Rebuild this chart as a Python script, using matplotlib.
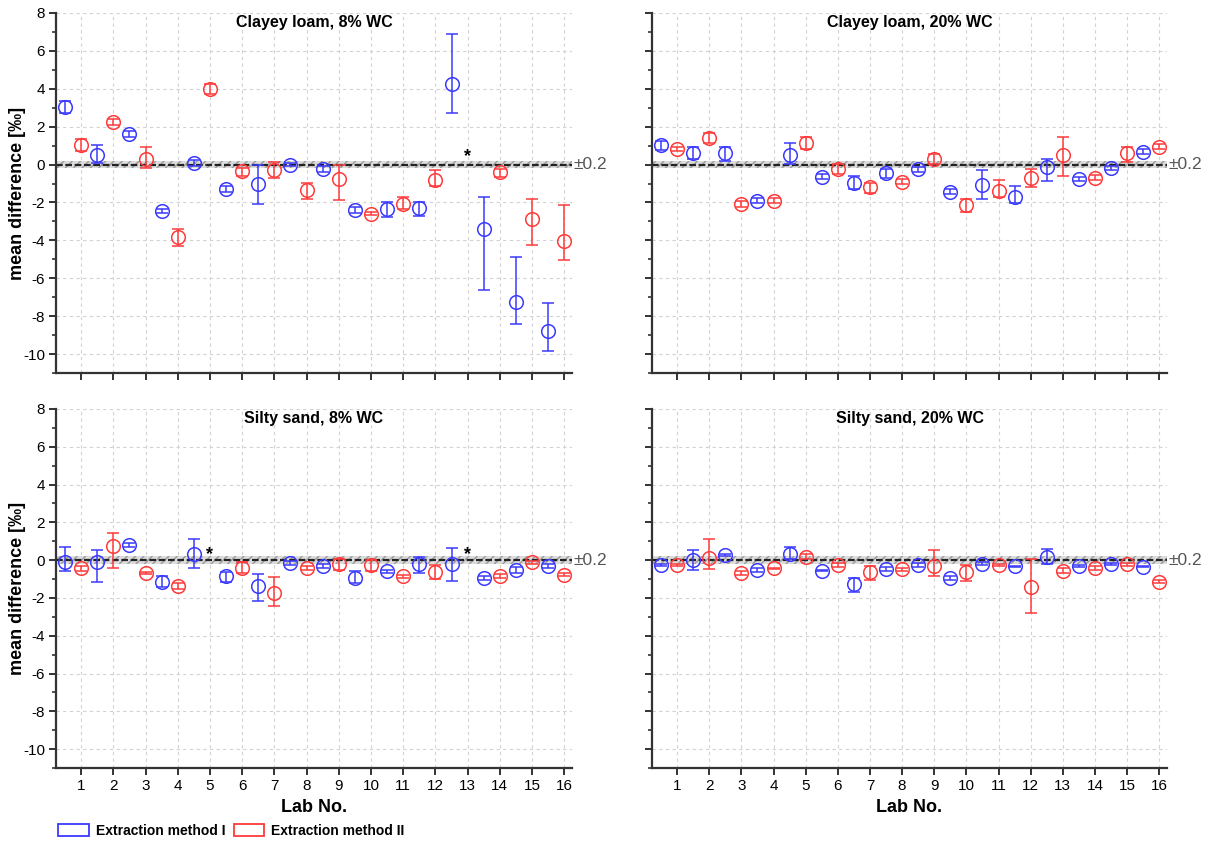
import numpy as np
import matplotlib
matplotlib.use('Agg')
import matplotlib.pyplot as plt
from matplotlib.patches import Patch
from matplotlib.ticker import MultipleLocator

plt.rcParams['font.family'] = ['Liberation Sans', 'DejaVu Sans']
plt.rcParams['axes.unicode_minus'] = False

labs = np.arange(1, 17)
nan = np.nan

# Clayey loam, 8% WC
cl8_m1 = [3.04, 0.52, 1.6, -2.45, 0.1, -1.3, -1.02, 0.0, -0.25, -2.4, -2.35, -2.3, 4.24, -3.38, -7.23, -8.78]
cl8_m1_hi = [0.29, 0.53, 0.15, 0.12, 0.15, 0.15, 1.0, 0.1, 0.15, 0.15, 0.4, 0.35, 2.65, 1.66, 2.33, 1.46]
cl8_m1_lo = [0.3, 0.43, 0.15, 0.12, 0.15, 0.15, 1.06, 0.1, 0.15, 0.15, 0.4, 0.4, 1.5, 3.23, 1.2, 1.05]
cl8_m2 = [1.01, 2.25, 0.30, -3.82, 4.01, -0.35, -0.26, -1.35, -0.74, -2.59, -2.06, -0.79, nan, -0.40, -2.85, -4.03]
cl8_m2_hi = [0.32, 0.17, 0.61, 0.42, 0.23, 0.18, 0.39, 0.39, 0.71, 0.08, 0.34, 0.50, nan, 0.18, 1.04, 1.9]
cl8_m2_lo = [0.30, 0.18, 0.49, 0.50, 0.28, 0.26, 0.44, 0.46, 1.11, 0.08, 0.28, 0.35, nan, 0.24, 1.38, 1.0]

# Clayey loam, 20% WC
cl20_m1 = [1.01, 0.60, 0.60, -1.91, 0.48, -0.64, -0.95, -0.46, -0.25, -1.43, -1.08, -1.69, -0.11, -0.76, -0.19, 0.69]
cl20_m1_hi = [0.21, 0.35, 0.34, 0.12, 0.65, 0.12, 0.37, 0.21, 0.12, 0.12, 0.80, 0.56, 0.43, 0.12, 0.1, 0.15]
cl20_m1_lo = [0.23, 0.28, 0.41, 0.12, 0.44, 0.12, 0.36, 0.26, 0.12, 0.12, 0.76, 0.36, 0.75, 0.12, 0.1, 0.15]
cl20_m2 = [0.83, 1.39, -2.08, -1.91, 1.13, -0.25, -1.20, -0.90, 0.28, -2.14, -1.38, -0.72, 0.51, -0.69, 0.60, 0.95]
cl20_m2_hi = [0.12, 0.30, 0.15, 0.12, 0.35, 0.29, 0.25, 0.12, 0.28, 0.30, 0.57, 0.47, 0.92, 0.12, 0.35, 0.15]
cl20_m2_lo = [0.12, 0.26, 0.15, 0.12, 0.32, 0.24, 0.28, 0.12, 0.24, 0.38, 0.35, 0.44, 1.11, 0.12, 0.44, 0.15]

# Silty sand, 8% WC
ss8_m1 = [-0.12, -0.12, 0.81, -1.14, 0.32, -0.86, -1.39, -0.16, -0.30, -0.92, -0.60, -0.21, -0.21, -0.95, -0.53, -0.30]
ss8_m1_hi = [0.79, 0.65, 0.1, 0.28, 0.79, 0.24, 0.65, 0.1, 0.1, 0.36, 0.1, 0.40, 0.84, 0.1, 0.15, 0.1]
ss8_m1_lo = [0.44, 1.01, 0.1, 0.27, 0.74, 0.28, 0.76, 0.1, 0.1, 0.31, 0.1, 0.49, 0.88, 0.1, 0.15, 0.1]
ss8_m2 = [-0.44, 0.76, -0.70, -1.36, nan, -0.39, -1.76, -0.42, -0.18, -0.25, -0.86, -0.65, nan, -0.83, -0.12, -0.77]
ss8_m2_hi = [0.12, 0.70, 0.05, 0.15, nan, 0.27, 0.88, 0.12, 0.23, 0.25, 0.08, 0.40, nan, 0.1, 0.08, 0.08]
ss8_m2_lo = [0.12, 1.18, 0.05, 0.15, nan, 0.31, 0.67, 0.12, 0.33, 0.35, 0.08, 0.35, nan, 0.1, 0.08, 0.08]

# Silty sand, 20% WC
ss20_m1 = [-0.26, 0.0, 0.26, -0.53, 0.35, -0.56, -1.27, -0.48, -0.25, -0.95, -0.18, -0.33, 0.19, -0.33, -0.21, -0.35]
ss20_m1_hi = [0.05, 0.53, 0.05, 0.12, 0.32, 0.03, 0.35, 0.12, 0.12, 0.12, 0.1, 0.03, 0.39, 0.05, 0.05, 0.03]
ss20_m1_lo = [0.05, 0.51, 0.05, 0.12, 0.30, 0.03, 0.44, 0.12, 0.12, 0.12, 0.1, 0.03, 0.37, 0.05, 0.05, 0.03]
ss20_m2 = [-0.26, 0.14, -0.69, -0.44, 0.19, -0.26, -0.65, -0.48, -0.33, -0.65, -0.25, -1.44, -0.56, -0.42, -0.21, -1.14]
ss20_m2_hi = [0.05, 0.97, 0.12, 0.05, 0.12, 0.12, 0.35, 0.08, 0.88, 0.39, 0.05, 1.49, 0.12, 0.12, 0.08, 0.08]
ss20_m2_lo = [0.05, 0.62, 0.12, 0.05, 0.12, 0.12, 0.39, 0.08, 0.53, 0.44, 0.05, 1.38, 0.12, 0.12, 0.08, 0.08]

# significance stars (lab, y)
cl8_stars = [(13, 0.4)]
ss8_stars = [(5, 0.32), (13, 0.32)]

titles = ['Clayey loam, 8% WC', 'Clayey loam, 20% WC', 'Silty sand, 8% WC', 'Silty sand, 20% WC']
panels = [
    (cl8_m1, cl8_m1_lo, cl8_m1_hi, cl8_m2, cl8_m2_lo, cl8_m2_hi, cl8_stars),
    (cl20_m1, cl20_m1_lo, cl20_m1_hi, cl20_m2, cl20_m2_lo, cl20_m2_hi, []),
    (ss8_m1, ss8_m1_lo, ss8_m1_hi, ss8_m2, ss8_m2_lo, ss8_m2_hi, ss8_stars),
    (ss20_m1, ss20_m1_lo, ss20_m1_hi, ss20_m2, ss20_m2_lo, ss20_m2_hi, []),
]

blue = '#3a3aff'
red = '#ff3a3a'
W, H = 1210, 843
fig = plt.figure(figsize=(W / 100, H / 100), dpi=100)

# axes boxes in pixels: left, right, top, bottom
boxes = [(56, 572, 13, 373), (652, 1167, 13, 373),
         (56, 572, 409, 768), (652, 1167, 409, 768)]

for k, (box, title, p) in enumerate(zip(boxes, titles, panels)):
    l, r, t, b = box
    ax = fig.add_axes([l / W, 1 - b / H, (r - l) / W, (b - t) / H])
    m1, m1lo, m1hi, m2, m2lo, m2hi, stars = p

    ax.axhspan(-0.2, 0.2, facecolor='#dcdcdc', edgecolor='#9a9a9a', hatch='////', lw=0, zorder=1)
    ax.axhline(0, color='#222222', lw=1.6, dashes=(3, 1.2), zorder=2)

    ax.errorbar(labs - 0.5, m1, yerr=[m1lo, m1hi], fmt='o', mfc='none', mec=blue,
                ms=9.8, mew=1.1, ecolor=blue, elinewidth=1.1, capsize=4.5, capthick=1.1, zorder=3)
    ax.errorbar(labs, m2, yerr=[m2lo, m2hi], fmt='o', mfc='none', mec=red,
                ms=9.8, mew=1.1, ecolor=red, elinewidth=1.1, capsize=4.5, capthick=1.1, zorder=3)
    for sx, sy in stars:
        ax.text(sx, sy, '*', ha='center', va='center', fontsize=13, fontweight='bold', zorder=4)

    ax.set_xlim(0.22, 16.24)
    ax.set_ylim(-11, 8)
    ax.set_xticks(labs)
    ax.yaxis.set_major_locator(MultipleLocator(2))
    ax.yaxis.set_minor_locator(MultipleLocator(1))
    ax.grid(True, which='major', color='#d2d2d2', lw=0.8, dashes=(3, 3))
    ax.set_axisbelow(True)
    for s in ['top', 'right']:
        ax.spines[s].set_visible(False)
    for s in ['left', 'bottom']:
        ax.spines[s].set_linewidth(1.6)
        ax.spines[s].set_color('#333333')
    ax.tick_params(which='major', direction='out', length=5, width=1.4, color='#333333',
                   labelsize=11, pad=3)
    ax.tick_params(which='minor', direction='out', length=3, width=1.2, color='#333333')
    ax.tick_params(axis='x', which='minor', length=0)

    ax.text(0.5, 0.973, title, transform=ax.transAxes, ha='center', va='center',
            fontsize=11.5, fontweight='bold')
    ax.text(16.3, 0, '\u00b10.2', ha='left', va='center', fontsize=12.5, color='#555555',
            clip_on=False)

    if k % 2 == 0:
        ax.set_ylabel('mean difference [\u2030]', fontsize=13, fontweight='bold', va='center')
        ax.yaxis.set_label_coords(-38 / (r - l), 0.5)
    else:
        ax.tick_params(axis='y', labelleft=False)
    if k < 2:
        ax.tick_params(axis='x', labelbottom=False)
    else:
        ax.set_xlabel('Lab No.', fontsize=13, fontweight='bold', labelpad=4)

handles = [Patch(facecolor='white', edgecolor=blue, lw=1.3, label='Extraction method I'),
           Patch(facecolor='white', edgecolor=red, lw=1.3, label='Extraction method II')]
fig.legend(handles=handles, loc='center left', bbox_to_anchor=(46 / W, 1 - 831 / H), ncol=2,
           frameon=False, prop={'weight': 'bold', 'size': 10}, handlelength=2.2,
           handleheight=1.0, handletextpad=0.5, columnspacing=0.6)

fig.savefig('out.png', dpi=100)
